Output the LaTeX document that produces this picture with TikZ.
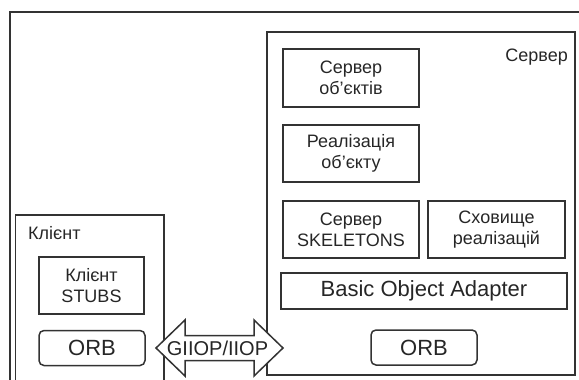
\documentclass[tikz,border=0pt]{standalone}
\usepackage{fontspec}
\setmainfont{Liberation Sans}

\begin{document}
\begin{tikzpicture}[x=1pt, y=-1pt, line join=miter,
		frame/.style={draw=black!80, line width=1.8pt},
		box/.style={draw=black!80, line width=1.5pt, align=center, inner sep=0pt, text=black!85, font=\fontsize{18}{21}\selectfont},
		orbbox/.style={box, rounded corners=5pt, minimum width=106, minimum height=35, font=\fontsize{22}{26}\selectfont},
		boxtitle/.style={inner sep=0pt, text=black!85, font=\fontsize{18}{21}\selectfont},
		arrowshape/.style={draw=black!80, fill=white, line width=1.5pt}]
				% 1. 外框与两个区域 (纵轴向下, 单位为像素)
				\useasboundingbox (0,0) rectangle (579,380);
				\draw[frame] (579,12) -- (10,12) -- (10,380);
				\draw[frame, line width=1.5pt] (15.5,380) -- (15.5,215) -- (164,215) -- (164,380);
				\draw[frame, line width=1.5pt] (267,32) rectangle (575,375);
				\node[boxtitle, anchor=west] (clientname) at (28,233) {Клієнт};
				\node[boxtitle, anchor=east] (servername) at (568,57) {Сервер};
				
				% 2. 客户端
				\node[box, minimum width=105, minimum height=57] (stubs) at (91.5,285.5) {Клієнт\\STUBS};
				\node[orbbox] (clientorb) at (92,348) {ORB};
				
				% 3. 服务器端
				\node[box, minimum width=136, minimum height=58] (objserver) at (351,78) {Сервер\\об’єктів};
				\node[box, minimum width=136, minimum height=57] (impl) at (351,153.5) {Реалізація\\об’єкту};
				\node[box, minimum width=136, minimum height=57] (skeletons) at (351,229.5) {Сервер\\SKELETONS};
				\node[box, minimum width=137, minimum height=57] (repo) at (496.5,229.5) {Сховище\\реалізацій};
				\node[box, minimum width=286, minimum height=36, font=\fontsize{22}{26}\selectfont] (boa) at (424,291) {Basic Object Adapter};
				\node[orbbox] (serverorb) at (424,347.5) {ORB};
				
				% 4. 协议双箭头 (GIIOP/IIOP)
				\coordinate (link) at (219.5,348);
				\draw[arrowshape, shift={(link)}] (-63.5,0) -- (-34.5,-28) -- (-34.5,-12.5) -- (34.5,-12.5) -- (34.5,-28) -- (63.5,0)
					-- (34.5,28) -- (34.5,12.5) -- (-34.5,12.5) -- (-34.5,28) -- cycle;
				\node[inner sep=0pt, text=black!85, font=\fontsize{20}{24}\selectfont] (proto) at ([xshift=-2pt]link) {GIIOP/IIOP};
			\end{tikzpicture}
\end{document}
